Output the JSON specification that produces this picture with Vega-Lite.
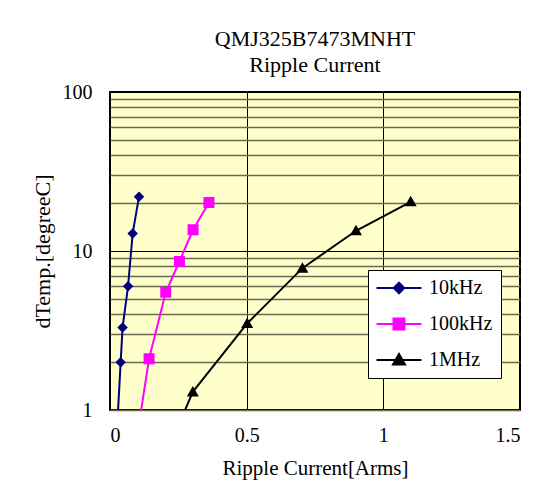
{
  "$schema": "https://vega.github.io/schema/vega-lite/v6.json",
  "autosize": "none",
  "padding": {"left": 110, "top": 92, "right": 17, "bottom": 81},
  "width": 410,
  "height": 318,
  "background": "white",
  "title": {
    "text": ["QMJ325B7473MNHT", "Ripple Current"],
    "font": "Liberation Serif",
    "fontSize": 22,
    "fontWeight": "normal",
    "lineHeight": 26,
    "offset": 5,
    "anchor": "middle",
    "color": "black"
  },
  "data": {
    "values": [
      {"series": "10kHz", "current": 0.02, "temp": 0.5},
      {"series": "10kHz", "current": 0.039, "temp": 2.0},
      {"series": "10kHz", "current": 0.046, "temp": 3.3},
      {"series": "10kHz", "current": 0.066, "temp": 6.0},
      {"series": "10kHz", "current": 0.083, "temp": 12.9},
      {"series": "10kHz", "current": 0.106, "temp": 21.9},
      {"series": "100kHz", "current": 0.1, "temp": 0.7},
      {"series": "100kHz", "current": 0.143, "temp": 2.1},
      {"series": "100kHz", "current": 0.204, "temp": 5.5},
      {"series": "100kHz", "current": 0.254, "temp": 8.6},
      {"series": "100kHz", "current": 0.304, "temp": 13.6},
      {"series": "100kHz", "current": 0.362, "temp": 20.2},
      {"series": "1MHz", "current": 0.2, "temp": 0.5},
      {"series": "1MHz", "current": 0.303, "temp": 1.3},
      {"series": "1MHz", "current": 0.502, "temp": 3.5},
      {"series": "1MHz", "current": 0.704, "temp": 7.8},
      {"series": "1MHz", "current": 0.9, "temp": 13.4},
      {"series": "1MHz", "current": 1.1, "temp": 20.4}
    ]
  },
  "encoding": {
    "x": {
      "field": "current", "type": "quantitative",
      "scale": {"domain": [0, 1.5], "nice": false, "zero": false},
      "title": "Ripple Current[Arms]",
      "axis": {
        "values": [0, 0.5, 1, 1.5], "format": "~g",
        "grid": true, "gridColor": "black", "gridWidth": 1, "gridOpacity": 1,
        "ticks": false, "domain": false,
        "labelPadding": 15, "titlePadding": 12, "titleFontSize": 21
      }
    },
    "y": {
      "field": "temp", "type": "quantitative",
      "scale": {"type": "log", "domain": [1, 100], "nice": false},
      "title": "dTemp.[degreeC]",
      "axis": {
        "values": [1, 2, 3, 4, 5, 6, 7, 8, 9, 10, 20, 30, 40, 50, 60, 70, 80, 90, 100],
        "format": "d",
        "labelExpr": "datum.value == 1 || datum.value == 10 || datum.value == 100 ? datum.label : ''",
        "grid": true,
        "gridColor": {"condition": {"test": "datum.value == 10 || datum.value == 100", "value": "black"}, "value": "#6a6a50"},
        "gridWidth": {"condition": {"test": "datum.value == 10 || datum.value == 100", "value": 1}, "value": 1.5},
        "gridOpacity": 1,
        "ticks": false, "domain": false,
        "labelPadding": 18, "titlePadding": 8, "titleFontSize": 22
      }
    },
    "color": {
      "field": "series", "type": "nominal",
      "scale": {"domain": ["10kHz", "100kHz", "1MHz"], "range": ["#000080", "#FF00FF", "#000000"]}
    }
  },
  "layer": [
    {
      "mark": {"type": "line", "strokeWidth": 2, "clip": true}
    },
    {
      "mark": {"type": "point", "filled": true, "opacity": 1, "size": 100, "clip": true},
      "encoding": {
        "shape": {
          "field": "series", "type": "nominal",
          "scale": {
            "domain": ["10kHz", "100kHz", "1MHz"],
            "range": [
              "M-4.5,0H4.5M0,-1.05L1.05,0L0,1.05L-1.05,0Z",
              "M-4.5,0H4.5M-1.1,-1.1H1.1V1.1H-1.1Z",
              "M-4.5,0H4.5M0,-1.2L1.2,0.9L-1.2,0.9Z"
            ]
          }
        }
      }
    }
  ],
  "config": {
    "font": "Liberation Serif",
    "view": {"fill": "#FFFFCC", "stroke": "black", "strokeWidth": 2},
    "axis": {
      "labelFont": "Liberation Serif", "labelFontSize": 20, "labelColor": "black",
      "titleFont": "Liberation Serif", "titleFontWeight": "normal", "titleColor": "black"
    },
    "legend": {
      "orient": "none",
      "legendX": 258,
      "legendY": 178,
      "title": null,
      "fillColor": "white",
      "strokeColor": "black",
      "strokeWidth": 1,
      "padding": 8,
      "symbolOffset": 13,
      "labelOffset": 20,
      "rowPadding": 16,
      "labelFont": "Liberation Serif",
      "labelFontSize": 20,
      "labelColor": "black",
      "symbolSize": 100,
      "symbolStrokeWidth": 2
    }
  }
}
